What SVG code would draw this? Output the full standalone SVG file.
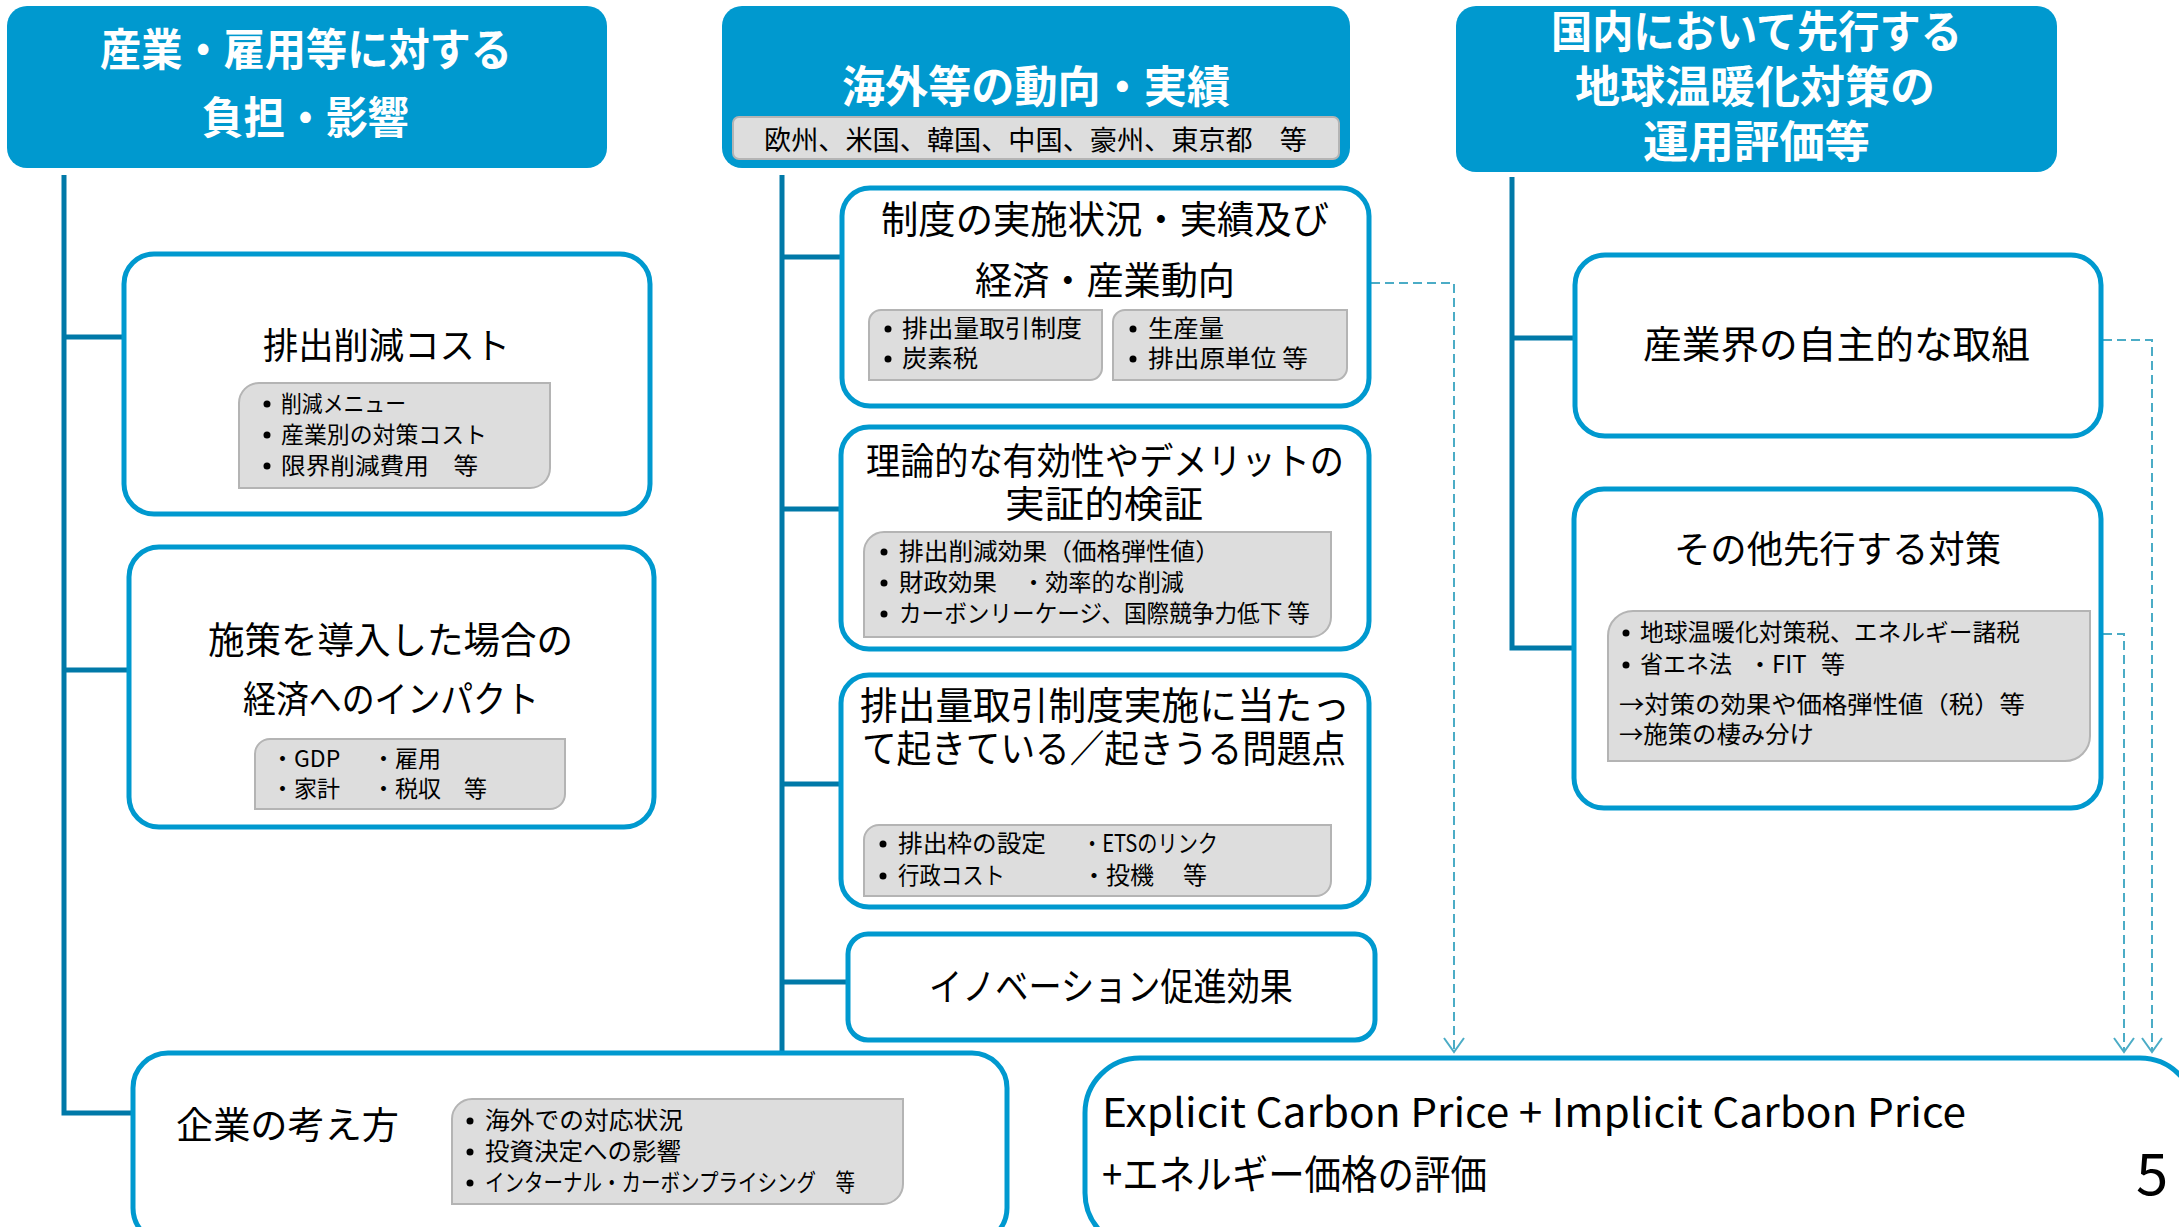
<svg xmlns="http://www.w3.org/2000/svg" width="2179" height="1227" viewBox="0 0 2179 1227">
<style>
text{font-family:"Noto Sans CJK JP","Noto Sans",sans-serif;fill:#000}
.hd{fill:#0099CF}
.ht{fill:#fff;font-weight:bold;font-size:44px}
.box{fill:#fff;stroke:#0099CF;stroke-width:5}
.gray{fill:#DDDDDD;stroke:#B4B4B4;stroke-width:2}
.tree{fill:none;stroke:#0079A8;stroke-width:5}
.dash{fill:none;stroke:#4BACC6;stroke-width:2;stroke-dasharray:9 5}
.t36{font-size:37px}
.t38{font-size:38px}
.s{font-size:24px}
.s23{font-size:23px}
.dot{fill:#000}
</style>
<defs>
<marker id="arr" markerUnits="userSpaceOnUse" markerWidth="24" markerHeight="18" viewBox="0 0 24 18" refX="12" refY="16" orient="0">
<path d="M2,2 L12,16 L22,2" fill="none" stroke="#4BACC6" stroke-width="2"/>
</marker>
</defs>

<g id="connectors">
<path class="tree" d="M64,175 V1113 H133"/>
<path class="tree" d="M64,337 H124"/>
<path class="tree" d="M64,670 H129"/>
<path class="tree" d="M782,175 V1053"/>
<path class="tree" d="M782,257 H842"/>
<path class="tree" d="M782,509 H841"/>
<path class="tree" d="M782,784 H841"/>
<path class="tree" d="M782,982 H848"/>
<path class="tree" d="M1512,177 V648 H1574"/>
<path class="tree" d="M1512,338 H1575"/>
<path class="dash" d="M1371,283 H1454 V1052" marker-end="url(#arr)"/>
<path class="dash" d="M2103,340 H2152 V1052" marker-end="url(#arr)"/>
<path class="dash" d="M2103,634 H2124 V1052" marker-end="url(#arr)"/>
</g>

<g id="header1">
<rect class="hd" x="7" y="6" width="600" height="162" rx="20"/>
<text class="ht" x="100" y="66" textLength="412" lengthAdjust="spacingAndGlyphs">産業・雇用等に対する</text>
<text class="ht" x="202" y="134" textLength="207" lengthAdjust="spacingAndGlyphs">負担・影響</text>
</g>

<g id="header2">
<rect class="hd" x="722" y="6" width="628" height="162" rx="20"/>
<text class="ht" x="842" y="103" textLength="388" lengthAdjust="spacingAndGlyphs">海外等の動向・実績</text>
<rect class="gray" x="733" y="117" width="606" height="42" rx="6"/>
<text x="764" y="150" font-size="27" textLength="543" lengthAdjust="spacingAndGlyphs">欧州、米国、韓国、中国、豪州、東京都　等</text>
</g>

<g id="header3">
<rect class="hd" x="1456" y="6" width="601" height="166" rx="20"/>
<text class="ht" x="1551" y="48" textLength="411" lengthAdjust="spacingAndGlyphs">国内において先行する</text>
<text class="ht" x="1575" y="103" textLength="360" lengthAdjust="spacingAndGlyphs">地球温暖化対策の</text>
<text class="ht" x="1643" y="158" textLength="227" lengthAdjust="spacingAndGlyphs">運用評価等</text>
</g>

<g id="box-cost">
<rect class="box" x="124" y="254" width="526" height="260" rx="30"/>
<text x="263" y="359" font-size="36" textLength="247" lengthAdjust="spacingAndGlyphs">排出削減コスト</text>
<path class="gray" d="M259,383 H550 V468 A20,20 0 0 1 530,488 H239 V403 A20,20 0 0 1 259,383 Z"/>
<circle class="dot" cx="267" cy="404" r="3.5"/>
<text class="s23" x="281" y="412" textLength="125" lengthAdjust="spacingAndGlyphs">削減メニュー</text>
<circle class="dot" cx="267" cy="435" r="3.5"/>
<text class="s23" x="281" y="443" textLength="206" lengthAdjust="spacingAndGlyphs">産業別の対策コスト</text>
<circle class="dot" cx="267" cy="466" r="3.5"/>
<text class="s23" x="281" y="474" textLength="197" lengthAdjust="spacingAndGlyphs">限界削減費用　等</text>
</g>

<g id="box-impact">
<rect class="box" x="129" y="547" width="525" height="280" rx="30"/>
<text class="t36" x="208" y="654" textLength="365" lengthAdjust="spacingAndGlyphs">施策を導入した場合の</text>
<text class="t36" x="243" y="713" textLength="296" lengthAdjust="spacingAndGlyphs">経済へのインパクト</text>
<path class="gray" d="M270,739 H565 V794 A15,15 0 0 1 550,809 H255 V754 A15,15 0 0 1 270,739 Z"/>
<text class="s23" x="271" y="767">・GDP</text>
<text class="s23" x="372" y="767">・雇用</text>
<text class="s23" x="271" y="797">・家計</text>
<text class="s23" x="372" y="797">・税収　等</text>
</g>

<g id="box-company">
<rect class="box" x="133" y="1053" width="874" height="190" rx="35"/>
<text x="176" y="1139" font-size="37" textLength="223" lengthAdjust="spacingAndGlyphs">企業の考え方</text>
<path class="gray" d="M472,1099 H903 V1184 A20,20 0 0 1 883,1204 H452 V1119 A20,20 0 0 1 472,1099 Z"/>
<circle class="dot" cx="470" cy="1121" r="3.5"/>
<text class="s" x="485" y="1129" textLength="198" lengthAdjust="spacingAndGlyphs">海外での対応状況</text>
<circle class="dot" cx="470" cy="1152" r="3.5"/>
<text class="s" x="485" y="1160" textLength="196" lengthAdjust="spacingAndGlyphs">投資決定への影響</text>
<circle class="dot" cx="470" cy="1183" r="3.5"/>
<text class="s" x="485" y="1191" textLength="370" lengthAdjust="spacingAndGlyphs">インターナル・カーボンプライシング　等</text>
</g>

<g id="box-status">
<rect class="box" x="842" y="188" width="527" height="218" rx="28"/>
<text class="t38" x="881" y="233" textLength="448" lengthAdjust="spacingAndGlyphs">制度の実施状況・実績及び</text>
<text class="t38" x="975" y="294" textLength="260" lengthAdjust="spacingAndGlyphs">経済・産業動向</text>
<path class="gray" d="M881,310 H1102 V368 A12,12 0 0 1 1090,380 H869 V322 A12,12 0 0 1 881,310 Z"/>
<path class="gray" d="M1125,310 H1347 V368 A12,12 0 0 1 1335,380 H1113 V322 A12,12 0 0 1 1125,310 Z"/>
<circle class="dot" cx="888" cy="329" r="3.5"/>
<text class="s" x="902" y="337" textLength="180" lengthAdjust="spacingAndGlyphs">排出量取引制度</text>
<circle class="dot" cx="888" cy="359" r="3.5"/>
<text class="s" x="902" y="367" textLength="76" lengthAdjust="spacingAndGlyphs">炭素税</text>
<circle class="dot" cx="1133" cy="329" r="3.5"/>
<text class="s" x="1148" y="337" textLength="76" lengthAdjust="spacingAndGlyphs">生産量</text>
<circle class="dot" cx="1133" cy="359" r="3.5"/>
<text class="s" x="1148" y="367" textLength="160" lengthAdjust="spacingAndGlyphs">排出原単位 等</text>
</g>

<g id="box-theory">
<rect class="box" x="841" y="427" width="528" height="222" rx="28"/>
<text class="t36" x="866" y="475" textLength="478" lengthAdjust="spacingAndGlyphs">理論的な有効性やデメリットの</text>
<text class="t36" x="1005" y="518" textLength="198" lengthAdjust="spacingAndGlyphs">実証的検証</text>
<path class="gray" d="M884,532 H1331 V617 A20,20 0 0 1 1311,637 H864 V552 A20,20 0 0 1 884,532 Z"/>
<circle class="dot" cx="884" cy="552" r="3.5"/>
<text class="s" x="899" y="560" textLength="321" lengthAdjust="spacingAndGlyphs">排出削減効果（価格弾性値）</text>
<circle class="dot" cx="884" cy="583" r="3.5"/>
<text class="s" x="899" y="591" textLength="98" lengthAdjust="spacingAndGlyphs">財政効果</text>
<text class="s" x="1022" y="591" textLength="162" lengthAdjust="spacingAndGlyphs">・効率的な削減</text>
<circle class="dot" cx="884" cy="614" r="3.5"/>
<text class="s" x="899" y="622" textLength="411" lengthAdjust="spacingAndGlyphs">カーボンリーケージ、国際競争力低下 等</text>
</g>

<g id="box-problems">
<rect class="box" x="841" y="675" width="528" height="232" rx="28"/>
<text class="t38" x="860" y="719" textLength="490" lengthAdjust="spacingAndGlyphs">排出量取引制度実施に当たっ</text>
<text class="t38" x="862" y="762" textLength="484" lengthAdjust="spacingAndGlyphs">て起きている／起きうる問題点</text>
<path class="gray" d="M879,825 H1331 V881 A15,15 0 0 1 1316,896 H864 V840 A15,15 0 0 1 879,825 Z"/>
<circle class="dot" cx="883" cy="844" r="3.5"/>
<text class="s" x="898" y="852" textLength="148" lengthAdjust="spacingAndGlyphs">排出枠の設定</text>
<text class="s" x="1082" y="852" textLength="136" lengthAdjust="spacingAndGlyphs">・ETSのリンク</text>
<circle class="dot" cx="883" cy="876" r="3.5"/>
<text class="s" x="898" y="884" textLength="107" lengthAdjust="spacingAndGlyphs">行政コスト</text>
<text class="s" x="1082" y="884">・投機</text>
<text class="s" x="1183" y="884">等</text>
</g>

<g id="box-innovation">
<rect class="box" x="848" y="934" width="527" height="106" rx="20"/>
<text class="t38" x="929" y="1000" textLength="364" lengthAdjust="spacingAndGlyphs">イノベーション促進効果</text>
</g>

<g id="box-voluntary">
<rect class="box" x="1575" y="255" width="526" height="181" rx="30"/>
<text class="t38" x="1643" y="358" textLength="387" lengthAdjust="spacingAndGlyphs">産業界の自主的な取組</text>
</g>

<g id="box-other">
<rect class="box" x="1574" y="489" width="527" height="319" rx="30"/>
<text class="t36" x="1674" y="563" textLength="327" lengthAdjust="spacingAndGlyphs">その他先行する対策</text>
<path class="gray" d="M1633,611 H2090 V736 A25,25 0 0 1 2065,761 H1608 V636 A25,25 0 0 1 1633,611 Z"/>
<circle class="dot" cx="1626" cy="633" r="3.5"/>
<text class="s" x="1640" y="641" textLength="380" lengthAdjust="spacingAndGlyphs">地球温暖化対策税、エネルギー諸税</text>
<circle class="dot" cx="1626" cy="665" r="3.5"/>
<text class="s" x="1640" y="673" textLength="92" lengthAdjust="spacingAndGlyphs">省エネ法</text>
<text class="s" x="1748" y="673">・FIT</text>
<text class="s" x="1821" y="673">等</text>
<text class="s" x="1619" y="713" textLength="406" lengthAdjust="spacingAndGlyphs">→対策の効果や価格弾性値（税）等</text>
<text class="s" x="1619" y="743" textLength="195" lengthAdjust="spacingAndGlyphs">→施策の棲み分け</text>
</g>

<g id="box-price">
<rect class="box" x="1085" y="1058" width="1110" height="190" rx="55"/>
<text x="1102" y="1127" font-size="40" textLength="864" lengthAdjust="spacingAndGlyphs">Explicit Carbon Price + Implicit Carbon Price</text>
<text x="1102" y="1189" font-size="40" textLength="385" lengthAdjust="spacingAndGlyphs">+エネルギー価格の評価</text>
<text x="2136" y="1195" font-size="58">5</text>
</g>
</svg>
